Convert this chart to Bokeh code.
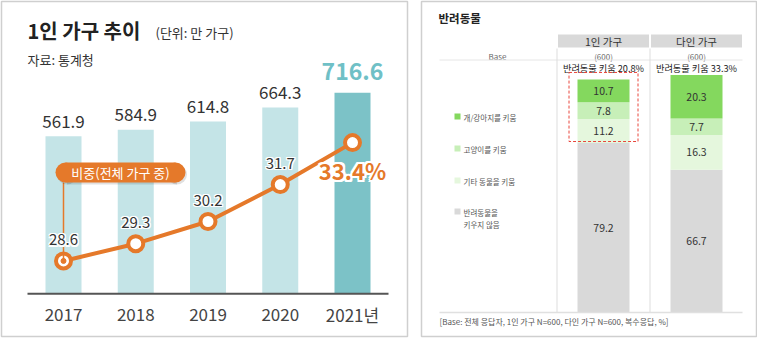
from bokeh.plotting import figure
from bokeh.models import Range1d, ColumnDataSource
from bokeh.layouts import row
from bokeh.embed import file_html
from bokeh.resources import INLINE
from bokeh.core.properties import value
import numpy as np

# ---------------- data: left chart ----------------
years = ["2017", "2018", "2019", "2020", "2021년"]
households = [561.9, 584.9, 614.8, 664.3, 716.6]   # 만 가구
share = [28.6, 29.3, 30.2, 31.7, 33.4]              # % of all households

# ---------------- data: right chart ----------------
groups = ["1인 가구", "다인 가구"]
base_n = ["(600)", "(600)"]
pet_total = ["반려동물 키움 20.8%", "반려동물 키움 33.3%"]
legend_labels = ["개/강아지를 키움", "고양이를 키움", "기타 동물을 키움", "반려동물을\n키우지 않음"]
dog_vals = [10.7, 20.3]
cat_vals = [7.8, 7.7]
other_vals = [11.2, 16.3]
none_vals = [79.2, 66.7]

KR = value("Noto Sans CJK KR")
ORANGE = "#e5792a"

# ================= LEFT FIGURE =================
W_L = 412
LX0, LDX = 63.0, 72.25          # pixel centre of first bar, bar spacing
LBASE, LK = 295.0, 0.282        # baseline pixel, px per 만 가구
PY0, PK = 262.0, 24.8           # pixel of first share point, px per %


def lx(px):
    return (px - LX0) / LDX


def ly(py):
    return (LBASE - py) / LK


def lp(py):
    return share[0] + (PY0 - py) / PK


left = figure(width=W_L, height=340,
              x_range=Range1d(lx(1), lx(407)), y_range=Range1d(ly(338), ly(1)),
              x_axis_type=None, y_axis_type=None,
              toolbar_location=None, output_backend="svg",
              min_border_left=1, min_border_right=W_L - 407, min_border_top=1, min_border_bottom=2,
              outline_line_color="#cfcfcf", outline_line_width=1.5,
              background_fill_color="white", border_fill_color="white")
left.extra_y_ranges = {"pct": Range1d(lp(338), lp(1))}

xi = list(range(len(years)))
bar_colors = ["#c4e4e7"] * (len(years) - 1) + ["#7cc2c7"]
left.vbar(x=xi, bottom=0, top=households, width=36 / LDX, fill_color=bar_colors, line_color=None)
left.segment(x0=[lx(27)], y0=[0], x1=[lx(388)], y1=[0], line_color="#555555", line_width=2)

# year labels
left.text(x=xi, y=[ly(316)] * len(xi), text=years, text_font=KR, text_font_size="17px",
          text_color="#444444", text_align="center", text_baseline="middle")

# bar value labels
left.text(x=xi[:-1], y=households[:-1], text=[f"{v:.1f}" for v in households[:-1]],
          text_font=KR, text_font_size="17px", text_color="#333333",
          text_align="center", text_baseline="middle", y_offset=-15)
left.text(x=xi[-1:], y=households[-1:], text=[f"{v:.1f}" for v in households[-1:]],
          text_font=KR, text_font_size="23px", text_font_style="bold", text_color="#6fc0c6",
          text_align="center", text_baseline="middle", y_offset=-21)

# share line
left.line(x=xi, y=share, y_range_name="pct", line_color=ORANGE, line_width=4)
left.scatter(x=xi, y=share, y_range_name="pct", size=15, fill_color="white",
             line_color=ORANGE, line_width=4)

# leader line + pill label
left.segment(x0=[xi[0]], y0=[lp(183)], x1=[xi[0]], y1=[share[0]], y_range_name="pct",
             line_color=ORANGE, line_width=1.5)
left.scatter(x=[xi[0]], y=[share[0]], y_range_name="pct", size=5, fill_color=ORANGE, line_color=ORANGE)

# shadow
left.rect(x=[lx(121.5)], y=[ly(175)], width=110, height=20, width_units="screen", height_units="screen",
          fill_color="#000000", fill_alpha=0.12, line_color=None)
left.scatter(x=[lx(66.5), lx(176.5)], y=[ly(175)] * 2, size=20, fill_color="#000000", fill_alpha=0.12,
             line_color=None)
left.rect(x=[lx(120)], y=[ly(173)], width=110, height=20, width_units="screen", height_units="screen",
          fill_color=ORANGE, line_color=None)
left.scatter(x=[lx(65), lx(175)], y=[ly(173)] * 2, size=20, fill_color=ORANGE, line_color=None)
left.text(x=[lx(120)], y=[ly(173)], text=["비중(전체 가구 중)"], text_font=KR, text_font_size="13px",
          text_color="white", text_align="center", text_baseline="middle")


def halo_text(fig, xs, ys, labels, yoff, size, color, bold, r):
    offs = [(-r, 0), (r, 0), (0, -r), (0, r), (-r, -r), (r, r), (-r, r), (r, -r)]
    style = "bold" if bold else "normal"
    for dx, dy in offs:
        fig.text(x=xs, y=ys, y_range_name="pct", text=labels, text_font=KR, text_font_size=size,
                 text_font_style=style, text_color="white", text_align="center",
                 text_baseline="middle", x_offset=dx, y_offset=yoff + dy)
    fig.text(x=xs, y=ys, y_range_name="pct", text=labels, text_font=KR, text_font_size=size,
             text_font_style=style, text_color=color, text_align="center",
             text_baseline="middle", y_offset=yoff)


# share value labels
halo_text(left, xi[:-1], share[:-1], [f"{v:.1f}" for v in share[:-1]], -21, "15px", "#333333", False, 1.2)
halo_text(left, xi[-1:], share[-1:], [f"{v:.1f}%" for v in share[-1:]], 27, "22px", ORANGE, True, 2)

# titles
left.text(x=[lx(27)], y=[ly(30)], text=["1인 가구 추이"], text_font=KR, text_font_size="20px",
          text_font_style="bold", text_color="#222222", text_align="left", text_baseline="middle")
left.text(x=[lx(155)], y=[ly(32)], text=["(단위: 만 가구)"], text_font=KR, text_font_size="13px",
          text_color="#333333", text_align="left", text_baseline="middle")
left.text(x=[lx(27)], y=[ly(59)], text=["자료: 통계청"], text_font=KR, text_font_size="13px",
          text_color="#333333", text_align="left", text_baseline="middle")

# ================= RIGHT FIGURE =================
W_R = 757 - W_L
RX0, RDX = 603.0, 93.0   # absolute page pixel of first bar centre, spacing
RBASE, RK = 312.0, 2.14  # baseline pixel, px per %


def rx(px):
    return (px - RX0) / RDX


def ry(py):
    return (RBASE - py) / RK


right = figure(width=W_R, height=340,
               x_range=Range1d(rx(421), rx(756)), y_range=Range1d(ry(336), ry(1)),
               x_axis_type=None, y_axis_type=None,
               toolbar_location=None, output_backend="svg",
               min_border_left=421 - W_L, min_border_right=1, min_border_top=1, min_border_bottom=4,
               outline_line_color="#cfcfcf", outline_line_width=1.5,
               background_fill_color="white", border_fill_color="white")

gi = list(range(len(groups)))
# header
right.quad(left=[i - 0.5 for i in gi], right=[i + 0.5 for i in gi], top=ry(33), bottom=ry(48),
           fill_color="#d9d9d9", line_color="white", line_width=2)
right.text(x=gi, y=[ry(40.5)] * 2, text=groups, text_font=KR, text_font_size="10.5px",
           text_color="#333333", text_align="center", text_baseline="middle")
right.text(x=gi, y=[ry(56)] * 2, text=base_n, text_font=KR, text_font_size="8px",
           text_color="#666666", text_align="center", text_baseline="middle")
right.text(x=[rx(497)], y=[ry(56)], text=["Base"], text_font=KR, text_font_size="8px",
           text_color="#666666", text_align="center", text_baseline="middle")
right.segment(x0=[rx(439)], y0=[ry(59.5)], x1=[rx(742)], y1=[ry(59.5)], line_color="#e6e6e6", line_width=1)
right.segment(x0=[-0.5, 0.5], y0=[ry(48)] * 2, x1=[-0.5, 0.5], y1=[0, 0], line_color="#dddddd", line_width=1)

# stacked bars
src = ColumnDataSource(dict(x=gi, none=none_vals, other=other_vals, cat=cat_vals, dog=dog_vals))
stack_keys = ["none", "other", "cat", "dog"]
stack_colors = ["#d9d9d9", "#e5f7dd", "#c7efb8", "#84d85e"]
right.vbar_stack(stack_keys, x="x", width=52 / RDX, fill_color=stack_colors, line_color=None, source=src)
right.segment(x0=[rx(439)], y0=[0], x1=[rx(742)], y1=[0], line_color="#e0e0e0", line_width=1.5)

# segment labels
seg_x, seg_y, seg_t = [], [], []
for i in gi:
    bottom = 0.0
    for vals in (none_vals, other_vals, cat_vals, dog_vals):
        v = vals[i]
        seg_x.append(i)
        seg_y.append(bottom + v / 2)
        seg_t.append(f"{v:.1f}")
        bottom += v
right.text(x=seg_x, y=seg_y, text=seg_t, text_font=KR, text_font_size="10.5px",
           text_color="#333333", text_align="center", text_baseline="middle")

totals = [n + o + c + d for n, o, c, d in zip(none_vals, other_vals, cat_vals, dog_vals)]
right.text(x=gi, y=[ry(67.5)] * 2, text=pet_total, text_font=KR, text_font_size="9.2px",
           text_color="#222222", text_align="center", text_baseline="middle")

# red dashed highlight around pet-owning part of 1인 가구
right.quad(left=[gi[0] - 34.5 / RDX], right=[gi[0] + 34.5 / RDX],
           bottom=[none_vals[0] + 1.5 / RK], top=[totals[0] + 7 / RK],
           fill_color=None, line_color="#e8463c", line_dash="3 2", line_width=1)

# legend
leg_py = [116, 148, 180, 211]
leg_colors = ["#84d85e", "#c7efb8", "#e5f7dd", "#d9d9d9"]
right.scatter(x=[rx(457)] * 4, y=[ry(p) for p in leg_py], marker="square", size=6,
              fill_color=leg_colors, line_color=None)
right.text(x=[rx(463)] * 4, y=[ry(p - 5) for p in leg_py], text=legend_labels, text_font=KR,
           text_font_size="7.5px", text_color="#555555", text_align="left", text_baseline="top",
           text_line_height=1.1)

# title & footnote
right.text(x=[rx(438)], y=[ry(17)], text=["반려동물"], text_font=KR, text_font_size="11.5px",
           text_font_style="bold", text_color="#222222", text_align="left", text_baseline="middle")
right.text(x=[rx(439)], y=[ry(321)], text=["[Base: 전체 응답자, 1인 가구 N=600, 다인 가구 N=600, 복수응답, %]"],
           text_font=KR, text_font_size="8px", text_color="#555555", text_align="left", text_baseline="middle")

layout = row(left, right)
open("out.html", "w").write(file_html(layout, INLINE))
